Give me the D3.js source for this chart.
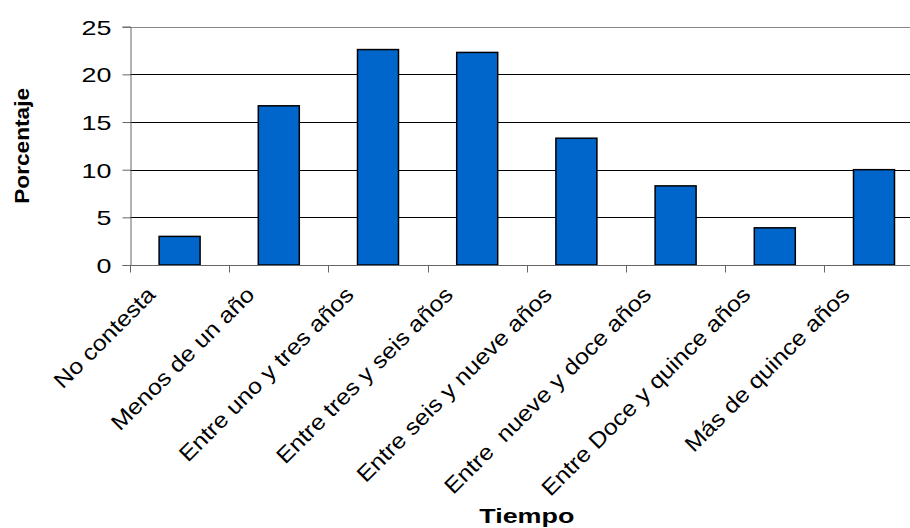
<!DOCTYPE html>
<html>
<head>
<meta charset="utf-8">
<script src="https://cdn.jsdelivr.net/npm/d3@7"></script>
<style>
  html, body { margin: 0; padding: 0; background: #fff; }
  svg { display: block; font-family: "Liberation Sans", Arial, sans-serif; }
</style>
</head>
<body>
<svg id="chart" width="910" height="528"></svg>
<script>
// Time ranges and the share of answers (%) in each one
const categories = [
  "No contesta",
  "Menos de un año",
  "Entre uno y tres años",
  "Entre tres y seis años",
  "Entre seis y nueve años",
  "Entre  nueve y doce años",
  "Entre Doce y quince años",
  "Más de quince años"
];
const values = [3.0, 16.7, 22.6, 22.3, 13.3, 8.3, 3.9, 10.0];
const yTicks = [0, 5, 10, 15, 20, 25];
const xTitle = "Tiempo";
const yTitle = "Porcentaje";

const svg = d3.select("#chart");
svg.append("rect").attr("width", 910).attr("height", 528).attr("fill", "#fff");

// plot area (the last category runs past the right edge of the frame)
const plotLeft = 130, plotTop = 26.7, plotBottom = 265;
const band = 99.2;
const plotRight = plotLeft + band * categories.length;

const x = d3.scaleBand().domain(categories).range([plotLeft, plotRight]).paddingInner(0).paddingOuter(0);
const y = d3.scaleLinear().domain([0, 25]).range([plotBottom, plotTop]);

// stretch a text element's advance width by a factor
function stretch(sel, k) {
  sel.each(function () {
    const w = this.getComputedTextLength();
    d3.select(this).attr("textLength", w * k).attr("lengthAdjust", "spacingAndGlyphs");
  });
}

// horizontal grid lines
svg.append("g").selectAll("line")
  .data(yTicks.filter(d => d > 0))
  .join("line")
  .attr("x1", plotLeft).attr("x2", plotRight)
  .attr("y1", d => Math.round(y(d)) + 0.5).attr("y2", d => Math.round(y(d)) + 0.5)
  .attr("stroke", d => d === 25 ? "#888" : "#000")
  .attr("stroke-width", 1);

// bars
const barW = 41;
svg.append("g").selectAll("rect")
  .data(values)
  .join("rect")
  .attr("x", (d, i) => x(categories[i]) + x.bandwidth() / 2 - barW / 2)
  .attr("y", d => y(d))
  .attr("width", barW)
  .attr("height", d => y(0) - y(d))
  .attr("fill", "#0066CC")
  .attr("stroke", "#000")
  .attr("stroke-width", 1.5);

// y axis
const yAxis = svg.append("g")
  .attr("transform", `translate(${plotLeft + 0.5},0)`)
  .call(d3.axisLeft(y).tickValues(yTicks).tickSize(8).tickPadding(11).tickFormat(d3.format("d")));
yAxis.select(".domain").attr("stroke", "#666");
yAxis.selectAll(".tick line").attr("stroke", "#666");
yAxis.selectAll(".tick text")
  .attr("font-family", "'Liberation Sans', Arial, sans-serif")
  .attr("font-size", 21)
  .attr("fill", "#000")
  .attr("dy", "0.36em")
  .call(stretch, 1.28);

// x axis: ticks sit on the category boundaries
const xAxisG = svg.append("g").attr("transform", `translate(0,${plotBottom + 0.5})`);
xAxisG.append("line")
  .attr("x1", plotLeft).attr("x2", plotRight)
  .attr("stroke", "#666");
xAxisG.selectAll("line.tk")
  .data(d3.range(categories.length + 1))
  .join("line")
  .attr("class", "tk")
  .attr("x1", i => Math.round(plotLeft + i * x.bandwidth()) + 0.5)
  .attr("x2", i => Math.round(plotLeft + i * x.bandwidth()) + 0.5)
  .attr("y1", 0).attr("y2", 7)
  .attr("stroke", "#666");

// rotated category labels
svg.append("g").selectAll("text")
  .data(categories)
  .join("text")
  .attr("transform", d => `translate(${x(d) + x.bandwidth() / 2 - 23},${plotBottom + 31}) rotate(-45)`)
  .attr("text-anchor", "end")
  .attr("font-size", 22)
  .attr("fill", "#000")
  .style("white-space", "pre")
  .text(d => d)
  .call(stretch, 1.13);

// axis titles
svg.append("text")
  .attr("x", (plotLeft + plotRight) / 2)
  .attr("y", 523)
  .attr("text-anchor", "middle")
  .attr("font-size", 21)
  .attr("font-weight", "bold")
  .attr("fill", "#000")
  .text(xTitle)
  .call(stretch, 1.28);

svg.append("text")
  .attr("transform", `translate(29,${(plotTop + plotBottom) / 2}) rotate(-90)`)
  .attr("text-anchor", "middle")
  .attr("font-size", 21)
  .attr("font-weight", "bold")
  .attr("fill", "#000")
  .text(yTitle)
  .call(stretch, 1.08);
</script>
</body>
</html>
